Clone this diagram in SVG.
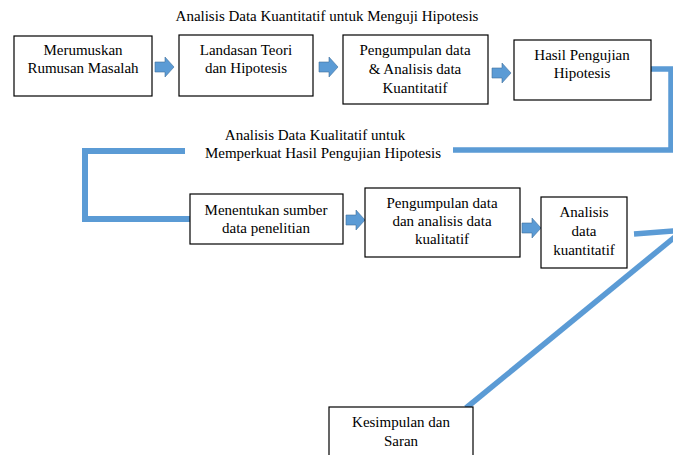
<svg xmlns="http://www.w3.org/2000/svg" width="673" height="455" viewBox="0 0 673 455">
<defs>
<style>
.box{fill:#fff;stroke:#000;stroke-width:1.2}
.t{font-family:"Liberation Serif","Times New Roman",serif;font-size:15px;fill:#000;text-anchor:middle}
.c{fill:none;stroke:#5b9bd5;stroke-width:5.5}
.ar{fill:#5b9bd5;stroke:#41719c;stroke-width:0.6}
</style>
<polygon id="arrow" class="ar" points="0,5 10,5 10,0 19,10 10,20 10,15 0,15"/>
</defs>
<rect width="673" height="455" fill="#fff"/>
<text class="t" x="327" y="21">Analisis Data Kuantitatif untuk Menguji Hipotesis</text>
<g id="connectors">
<path class="c" d="M651,69 H671 V150 H453"/>
<path class="c" d="M185,151 H85 V219 H190" style="stroke-width:6"/>
<path class="c" d="M634,234 L674,231"/>
<path class="c" d="M676,236 L466,408"/>
<use href="#arrow" x="155" y="57"/>
<use href="#arrow" x="319" y="57"/>
<use href="#arrow" x="492" y="63"/>
<use href="#arrow" x="346" y="210"/>
<use href="#arrow" x="522" y="218"/>
</g>
<text class="t" x="315" y="140">Analisis Data Kualitatif untuk</text>
<text class="t" x="323" y="158">Memperkuat Hasil Pengujian Hipotesis</text>
<g id="n1"><rect class="box" x="14" y="36" width="138" height="60"/>
<text class="t" x="83" y="55">Merumuskan</text><text class="t" x="83" y="73">Rumusan Masalah</text></g>
<g id="n2"><rect class="box" x="179" y="35" width="134" height="61"/>
<text class="t" x="246" y="55">Landasan Teori</text><text class="t" x="246" y="73">dan Hipotesis</text></g>
<g id="n3"><rect class="box" x="343" y="35" width="145" height="69"/>
<text class="t" x="415" y="55">Pengumpulan data</text><text class="t" x="415" y="74">&amp; Analisis data</text><text class="t" x="415" y="93">Kuantitatif</text></g>
<g id="n4"><rect class="box" x="514" y="40" width="137" height="60"/>
<text class="t" x="582" y="60">Hasil Pengujian</text><text class="t" x="582" y="78">Hipotesis</text></g>
<g id="n5"><rect class="box" x="190" y="194" width="153" height="50"/>
<text class="t" x="266" y="215">Menentukan sumber</text><text class="t" x="266" y="233">data penelitian</text></g>
<g id="n6"><rect class="box" x="365" y="188" width="155" height="69"/>
<text class="t" x="442" y="208">Pengumpulan data</text><text class="t" x="442" y="226">dan analisis data</text><text class="t" x="442" y="244">kualitatif</text></g>
<g id="n7"><rect class="box" x="541" y="197" width="86" height="71"/>
<text class="t" x="584" y="217">Analisis</text><text class="t" x="584" y="236">data</text><text class="t" x="584" y="255">kuantitatif</text></g>
<g id="n8"><rect class="box" x="329" y="407" width="144" height="60"/>
<text class="t" x="401" y="427">Kesimpulan dan</text><text class="t" x="401" y="446">Saran</text></g>
</svg>
